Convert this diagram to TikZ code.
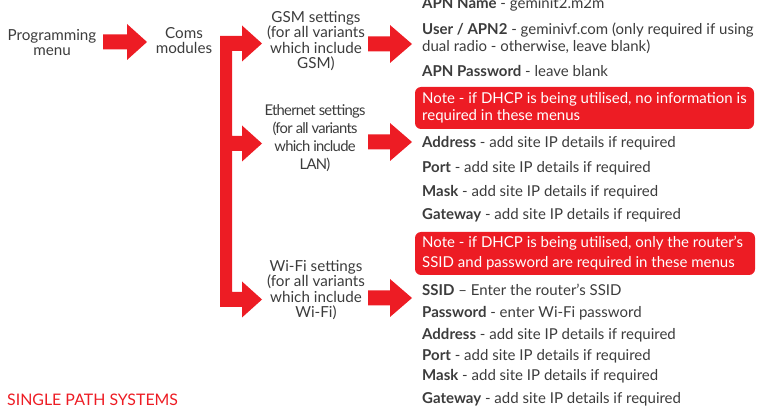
\documentclass[tikz,border=0pt]{standalone}
\usepackage{fontspec}
\setmainfont{Lato}
\definecolor{brandred}{HTML}{ED1C24}
\definecolor{txtgray}{HTML}{3C3C3C}
\begin{document}
\begin{tikzpicture}[x=1pt,y=-1pt,
  lbl/.style={anchor=base, align=center, text=txtgray, inner sep=0pt, font=\fontsize{15.2}{15.6}\selectfont},
  ethlbl/.style={lbl, font=\fontsize{14.8}{18}\selectfont\addfontfeature{LetterSpace=-5}},
  item/.style={anchor=base west, inner sep=0pt, text=txtgray, font=\fontsize{15}{19}\selectfont},
  notebox/.style={fill=brandred, draw=none, rounded corners=6pt},
  notetxt/.style={anchor=base west, align=left, inner sep=0pt, text=white, font=\fontsize{15}{19}\selectfont},
  blockarrow/.style={fill=brandred, draw=none},
  title/.style={anchor=base west, inner sep=0pt, text=brandred, font=\fontsize{15.9}{17}\selectfont}]
\useasboundingbox (0,0) rectangle (761,406);

% left labels (base anchor = last line baseline)
\node[lbl] (prog) at (52,56) {Programming\\menu};
\node[lbl] (coms) at (184,54) {Coms\\modules};
\node[lbl] (gsm) at (316,69) {GSM settings\\(for all variants\\which include\\GSM)};
\node[ethlbl] (eth) at (315,170) {Ethernet settings\\(for all variants\\which include\\LAN)};
\node[lbl] (wifi) at (316,318) {Wi-Fi settings\\(for all variants\\which include\\Wi-Fi)};

% arrows
\fill[blockarrow] (103,34.5) -- (127,34.5) -- (127,24) -- (147,42) -- (127,60) -- (127,49.5) -- (103,49.5) -- cycle;
\fill[blockarrow] (220,36) -- (242,36) -- (242,25.5) -- (262,43.5) -- (242,61.5) -- (242,51) -- (232,51)
  -- (232,136) -- (242,136) -- (242,125.5) -- (262,143.5) -- (242,161.5) -- (242,151) -- (232,151)
  -- (232,292) -- (242,292) -- (242,281.5) -- (262,299.5) -- (242,317.5) -- (242,307) -- (220,307) -- cycle;
\fill[blockarrow] (368,36.5) -- (390,36.5) -- (390,25) -- (412,44) -- (390,63) -- (390,51.5) -- (368,51.5) -- cycle;
\fill[blockarrow] (368,134.5) -- (390,134.5) -- (390,123) -- (412,142) -- (390,161) -- (390,149.5) -- (368,149.5) -- cycle;
\fill[blockarrow] (368,290.5) -- (390,290.5) -- (390,279) -- (412,298) -- (390,317) -- (390,305.5) -- (368,305.5) -- cycle;

% GSM items
\node[item] (apnname) at (422,9) {\textbf{APN Name} - geminit2.m2m};
\node[item] (apn2a) at (422,35) {\textbf{User / APN2} - geminivf.com (only required if using};
\node[item] (apn2b) at (422,52) {dual radio - otherwise, leave blank)};
\node[item] (apnpw) at (422,77) {\textbf{APN Password} - leave blank};

% Ethernet
\fill[notebox] (415,87) rectangle (754,129);
\node[notetxt] (note1a) at (422,104) {Note - if DHCP is being utilised, no information is};
\node[notetxt] (note1b) at (422,121) {required in these menus};
\node[item] (ethaddr) at (422,148) {\textbf{Address} - add site IP details if required};
\node[item] (ethport) at (422,173) {\textbf{Port} - add site IP details if required};
\node[item] (ethmask) at (422,197) {\textbf{Mask} - add site IP details if required};
\node[item] (ethgw) at (422,220) {\textbf{Gateway} - add site IP details if required};

% Wi-Fi
\fill[notebox] (415,232) rectangle (755,275);
\node[notetxt] (note2a) at (422,248) {Note - if DHCP is being utilised, only the router’s};
\node[notetxt] (note2b) at (422,268) {SSID and password are required in these menus};
\node[item] (ssid) at (422,296) {\textbf{SSID} – Enter the router’s SSID};
\node[item] (pass) at (422,318) {\textbf{Password} - enter Wi-Fi password};
\node[item] (waddr) at (422,339) {\textbf{Address} - add site IP details if required};
\node[item] (wport) at (422,360) {\textbf{Port} - add site IP details if required};
\node[item] (wmask) at (422,381) {\textbf{Mask} - add site IP details if required};
\node[item] (wgw) at (422,403) {\textbf{Gateway} - add site IP details if required};

\node[title] (sps) at (7,405) {SINGLE PATH SYSTEMS};
\end{tikzpicture}
\end{document}
